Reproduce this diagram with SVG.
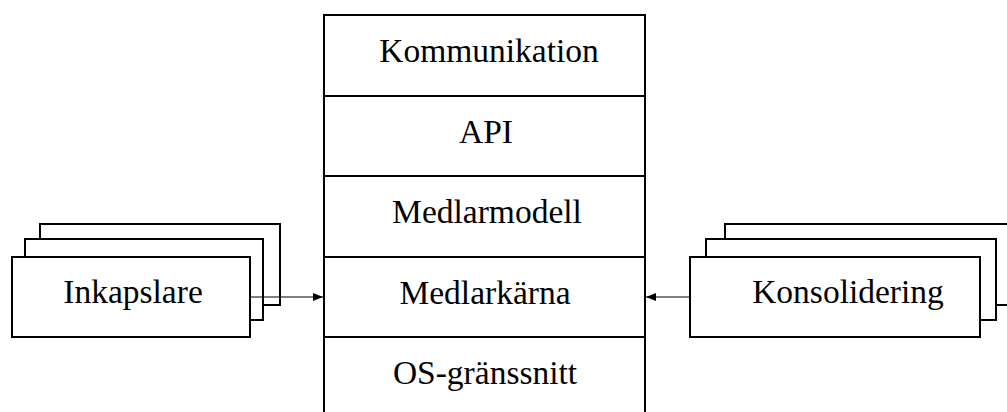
<svg xmlns="http://www.w3.org/2000/svg" width="1007" height="412" viewBox="0 0 1007 412">
<defs>
<style>
.box{fill:#fff;stroke:#000;stroke-width:2}
.lbl{font-size:33.5px;fill:#000;text-anchor:middle}
.conn{stroke:#000;stroke-width:1;fill:none}
</style>
<marker id="ah" viewBox="0 0 10 8" refX="10" refY="4" markerWidth="10" markerHeight="8" markerUnits="userSpaceOnUse" orient="auto">
<path d="M0,0 L10,4 L0,8 Z" fill="#000"/>
</marker>
</defs>
<rect width="1007" height="412" fill="#fff"/>
<g font-family="'Liberation Serif', 'DejaVu Serif', serif">
<g id="stack">
<g id="kommunikation"><rect class="box" x="324" y="15" width="321" height="81"/><text class="lbl" x="489" y="62">Kommunikation</text></g>
<g id="api"><rect class="box" x="324" y="96" width="321" height="80"/><text class="lbl" x="486" y="143">API</text></g>
<g id="medlarmodell"><rect class="box" x="324" y="176" width="321" height="81"/><text class="lbl" x="487" y="223">Medlarmodell</text></g>
<g id="medlarkarna"><rect class="box" x="324" y="257" width="321" height="80"/><text class="lbl" x="485" y="304">Medlarkärna</text></g>
<g id="osgranssnitt"><rect class="box" x="324" y="337" width="321" height="81"/><text class="lbl" x="485" y="384">OS-gränssnitt</text></g>
</g>
<g id="inkapslare">
<rect class="box" x="40" y="224" width="240" height="81"/>
<rect class="box" x="25" y="239" width="238" height="81"/>
<rect class="box" x="12" y="257" width="238" height="80"/>
<text class="lbl" x="133" y="303">Inkapslare</text>
</g>
<g id="konsolidering">
<rect class="box" x="725" y="224" width="300" height="81"/>
<rect class="box" x="706" y="239" width="290" height="81"/>
<rect class="box" x="690" y="257" width="290" height="80"/>
<text class="lbl" x="848" y="303">Konsolidering</text>
</g>
</g>
<g id="connectors">
<line class="conn" x1="250" y1="297" x2="323" y2="297" marker-end="url(#ah)"/>
<line class="conn" x1="689" y1="297" x2="646" y2="297" marker-end="url(#ah)"/>
</g>
</svg>
